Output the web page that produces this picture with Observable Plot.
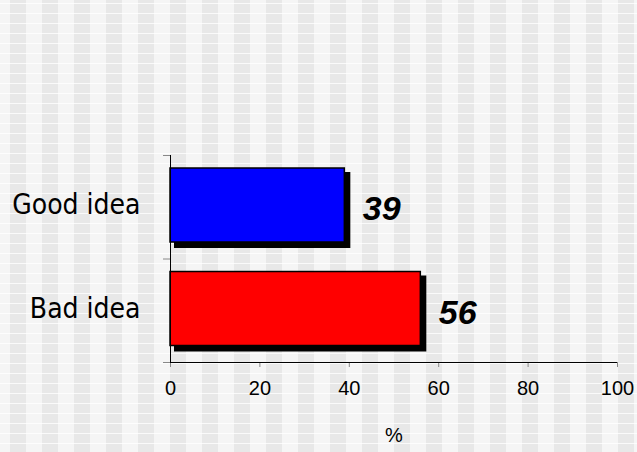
<!DOCTYPE html>
<html>
<head>
<meta charset="utf-8">
<script src="https://cdn.jsdelivr.net/npm/d3@7"></script>
<script src="https://cdn.jsdelivr.net/npm/@observablehq/plot@0.6"></script>
<style>
  html, body { margin: 0; padding: 0; background: #f4f4f4; }
  #bg { position: absolute; left: 0; top: 0; width: 637px; height: 452px; z-index: 0;
    background-image: url("data:image/svg+xml;utf8,<svg xmlns='http://www.w3.org/2000/svg' width='32' height='10'><rect width='32' height='10' fill='%23f5f5f5'/><rect x='10' width='16' height='10' fill='%23e8e8e8'/><rect y='3' width='32' height='1' fill='%23ffffff' fill-opacity='0.8'/></svg>"); }
  #chart { position: absolute; left: 0; top: 0; z-index: 1; }
  #chart svg { display: block; background: transparent !important; }
</style>
</head>
<body>
<div id="bg"></div>
<div id="chart"></div>
<script>
const categories = ["Good idea", "Bad idea"];
const values = [39, 56];
const barColors = ["#0000ff", "#ff0000"];
const xTicks = [0, 20, 40, 60, 80, 100];
const yTicks = [0, 1, 2];
const axisLabel = "%";

const data = categories.map((c, i) => ({category: c, value: values[i], i, i2: i + 1, mid: i + 0.5}));

const chart = Plot.plot({
  width: 637,
  height: 452,
  marginLeft: 170,
  marginRight: 20,
  marginTop: 155,
  marginBottom: 90,
  style: {background: "transparent", fontFamily: "Arial, 'Liberation Sans', sans-serif", color: "black"},
  x: {domain: [0, 100]},
  y: {domain: [0, 2], reverse: true},
  color: {domain: categories, range: barColors},
  marks: [
    Plot.rect(data, {x1: 0, x2: "value", y1: "i", y2: "i2", insetTop: 13, insetBottom: 16.5, fill: "black", stroke: "black", strokeWidth: 2, dx: 5, dy: 5}),
    Plot.rect(data, {x1: 0, x2: "value", y1: "i", y2: "i2", insetTop: 13, insetBottom: 16.5, fill: "category", stroke: "black", strokeWidth: 1.5}),
    Plot.text(data, {x: "value", y: "mid", text: d => String(d.value), textAnchor: "start", dx: 18, dy: 2, fontSize: 34, fontWeight: "bold", fontStyle: "italic", fill: "black"}),
    Plot.text(data, {x: 0, y: "mid", text: "category", textAnchor: "end", dx: -30, dy: -2, fontSize: 28, fontFamily: "'DejaVu Sans Condensed', 'Liberation Sans Narrow', sans-serif", fontStretch: "condensed", fill: "black"}),
    Plot.axisY(yTicks, {tickFormat: () => "", tickSize: 7, stroke: "#888"}),
    Plot.axisX(xTicks, {tickSize: 5, tickPadding: 13, fontSize: 20, stroke: "#888", fill: "black", label: null}),
    Plot.ruleX([0], {stroke: "black"}),
    Plot.ruleY([2], {stroke: "black"}),
    Plot.text([axisLabel], {frameAnchor: "bottom", dy: 79, fontSize: 20, fill: "black"})
  ]
});
document.getElementById("chart").appendChild(chart);
</script>
</body>
</html>
